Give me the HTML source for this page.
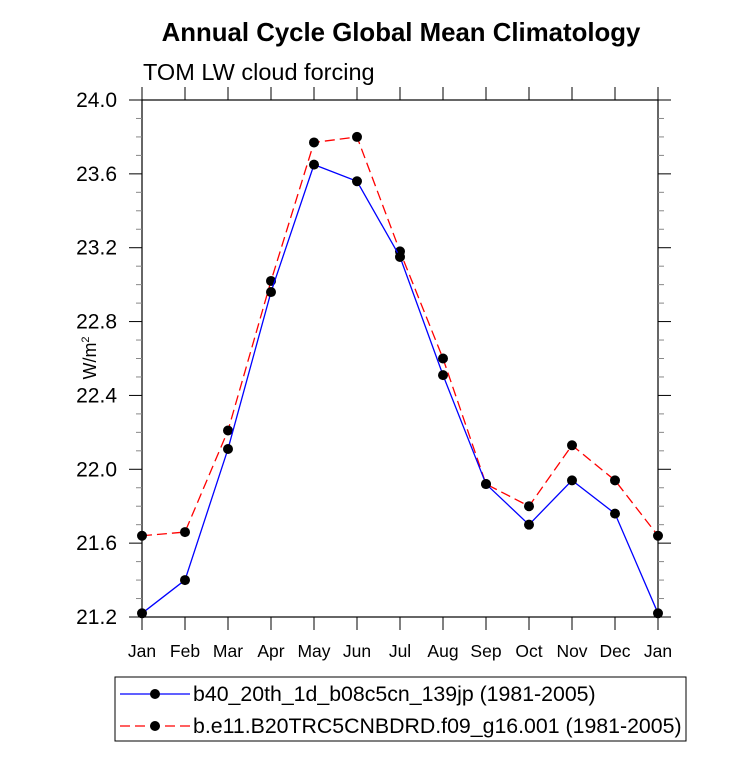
<!DOCTYPE html>
<html><head><meta charset="utf-8"><style>
body{margin:0;background:#fff;font-family:"Liberation Sans",sans-serif}
</style></head><body>
<svg id="chart" width="733" height="766" xmlns="http://www.w3.org/2000/svg" font-family="Liberation Sans, sans-serif">
<text x="401" y="41" text-anchor="middle" font-size="25.8" font-weight="bold">Annual Cycle Global Mean Climatology</text>
<text x="143" y="80" font-size="23.5">TOM LW cloud forcing</text>
<text transform="translate(96,358) rotate(-90)" text-anchor="middle" font-size="18">W/m<tspan font-size="11" dy="-7">2</tspan></text>
<g id="axes"></g><g id="series"></g>
<g>
<rect x="115" y="677" width="571" height="64" fill="none" stroke="#000" stroke-width="1"/>
<line x1="120" y1="694" x2="190" y2="694" stroke="#00f" stroke-width="1.2"/>
<circle cx="155" cy="694" r="5" fill="#000"/>
<text x="193" y="701" font-size="21.3">b40_20th_1d_b08c5cn_139jp (1981-2005)</text>
<line x1="120" y1="726" x2="190" y2="726" stroke="#f00" stroke-width="1.2" stroke-dasharray="10,5"/>
<circle cx="155" cy="726" r="5" fill="#000"/>
<text x="193" y="733" font-size="21.3">b.e11.B20TRC5CNBDRD.f09_g16.001 (1981-2005)</text>
</g>
</svg>
<script>
const months=["Jan","Feb","Mar","Apr","May","Jun","Jul","Aug","Sep","Oct","Nov","Dec","Jan"];
const blueVals=[21.22,21.40,22.11,22.96,23.65,23.56,23.15,22.51,21.92,21.70,21.94,21.76,21.22];
const redVals=[21.64,21.66,22.21,23.02,23.77,23.80,23.18,22.60,21.92,21.80,22.13,21.94,21.64];
const yTicks=[21.2,21.6,22.0,22.4,22.8,23.2,23.6,24.0];
const NS="http://www.w3.org/2000/svg";
const L=142,R=658,T=100,B=617,ymin=21.2,ymax=24.0;
const xs=i=>L+i*(R-L)/(months.length-1);
const ys=v=>B-(v-ymin)/(ymax-ymin)*(B-T);
function mk(tag,at,parent){const e=document.createElementNS(NS,tag);for(const k in at)e.setAttribute(k,at[k]);parent.appendChild(e);return e;}
const ax=document.getElementById('axes');
const frame=mk('rect',{x:L,y:T,width:R-L,height:B-T,fill:'none',stroke:'#000','stroke-width':1.2},ax);


months.forEach((m,i)=>{const x=xs(i);
mk('line',{x1:x,y1:B,x2:x,y2:B+13,stroke:'#000'},ax);
mk('line',{x1:x,y1:T,x2:x,y2:T-13,stroke:'#000'},ax);
const t=mk('text',{x:x,y:657,'text-anchor':'middle','font-size':17.5},ax);t.textContent=m;


});
for(let v=ymin;v<=ymax+1e-9;v+=0.1){const y=ys(v);const major=Math.abs(Math.round(v*10)%4)===0;const len=major?13:6;
mk('line',{x1:L,y1:y,x2:L-len,y2:y,stroke:major?'#000':'#888'},ax);
mk('line',{x1:R,y1:y,x2:R+len,y2:y,stroke:major?'#000':'#888'},ax);}
yTicks.forEach(v=>{const t=mk('text',{x:117,y:ys(v)+7,'text-anchor':'end','font-size':21},ax);t.textContent=v.toFixed(1);


});
const sg=document.getElementById('series');
function draw(vals,color,dash,name){
const p=mk('polyline',{points:vals.map((v,i)=>xs(i)+','+ys(v)).join(' '),fill:'none',stroke:color,'stroke-width':1.3,'stroke-dasharray':dash},sg);


vals.forEach((v,i)=>{const c=mk('circle',{cx:xs(i),cy:ys(v),r:5,fill:'#000'},sg);

});}
draw(redVals,'#f00','10,5','red-series');
draw(blueVals,'#00f','none','blue-series');
</script>
</body></html>
